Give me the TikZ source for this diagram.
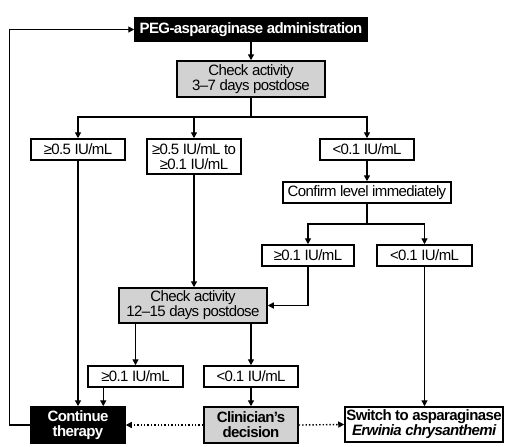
\documentclass[tikz,border=0pt]{standalone}
\usepackage{fontspec}
\setmainfont{Liberation Sans}[LetterSpace=-4]
\usetikzlibrary{arrows.meta,calc}
\definecolor{boxgray}{HTML}{D2D2D2}
\tikzset{
  basebox/.style={draw=black, line width=1.5pt, inner sep=0pt, align=center,
    font=\fontsize{15}{15}\selectfont},
  wbox/.style={basebox, fill=white},
  gbox/.style={basebox, fill=boxgray},
  bbox/.style={basebox, fill=black, text=white, font=\fontsize{15}{15}\selectfont\bfseries},
  arr/.style={line width=1.4pt, -{Triangle[length=6pt,width=6pt]}},
  ln/.style={line width=1.4pt},
  dotarr/.style={line width=1.4pt, dotted, -{Triangle[length=6pt,width=6pt]}}
}
\begin{document}
\begin{tikzpicture}[x=1pt,y=-1pt]
\useasboundingbox (0,0) rectangle (528,447);
\node[bbox, minimum width=232pt, minimum height=23pt] (peg) at (251,29.5) {PEG-asparaginase administration};
\node[gbox, minimum width=148pt, minimum height=36pt] (chk1) at (251,79) {Check activity\\3–7 days postdose};
\node[wbox, minimum width=94pt, minimum height=21pt] (a1) at (78,149.5) {≥0.5 IU/mL};
\node[wbox, minimum width=94pt, minimum height=35pt] (a2) at (194,156.5) {≥0.5 IU/mL to\\≥0.1 IU/mL};
\node[wbox, minimum width=94pt, minimum height=21pt] (a3) at (367,149.5) {<0.1 IU/mL};
\node[wbox, minimum width=168pt, minimum height=21pt] (conf) at (367,192.5) {Confirm level immediately};
\node[wbox, minimum width=92pt, minimum height=21pt] (b1) at (308,255.5) {≥0.1 IU/mL};
\node[wbox, minimum width=95pt, minimum height=21pt] (b2) at (424.5,255.5) {<0.1 IU/mL};
\node[gbox, minimum width=148pt, minimum height=35pt] (chk2) at (193,305.5) {Check activity\\12–15 days postdose};
\node[wbox, minimum width=95pt, minimum height=21pt] (c1) at (135.5,376.5) {≥0.1 IU/mL};
\node[wbox, minimum width=94pt, minimum height=21pt] (c2) at (251,376.5) {<0.1 IU/mL};
\node[bbox, minimum width=94pt, minimum height=36pt] (cont) at (78,425) {Continue\\therapy};
\node[gbox, minimum width=94pt, minimum height=36pt, font=\fontsize{15}{15}\selectfont\bfseries] (clin) at (251,425) {Clinician’s\\decision};
\node[wbox, minimum width=158pt, minimum height=35pt, font=\fontsize{15}{15}\selectfont\bfseries] (sw) at (424,424.5) {Switch to asparaginase\\\textit{Erwinia chrysanthemi}};
\coordinate (j1) at (251,117);
\coordinate (j2) at (367,224);
\draw[arr] (peg) -- (chk1);
\draw[ln] (chk1.south) -- (j1);
\draw[arr] (j1) -| (a1.north);
\draw[arr] (j1) -| (a2.north);
\draw[arr] (j1) -| (a3.north);
\draw[arr] (a3) -- (conf);
\draw[ln] (conf.south) -- (j2);
\draw[arr] (j2) -| (b1.north);
\draw[arr] (j2) -| (b2.north);
\draw[arr] (a2.south) -- (a2.south |- chk2.north);
\draw[arr] (b1.south) |- (chk2.east);
\draw[arr] (c1.north |- chk2.south) -- (c1.north);
\draw[arr] (c2.north |- chk2.south) -- (c2.north);
\draw[arr] (a1.south) -- (cont.north);
\draw[arr] ([xshift=16pt]c1.south west) -- ([xshift=16pt]c1.south west |- cont.north);
\draw[arr] (c2) -- (clin);
\draw[arr] (b2.south) -- (b2.south |- sw.north);
\draw[dotarr] (clin.west) -- (cont.east);
\draw[dotarr] (clin.east) -- (sw.west);
\draw[arr] (cont.west) -- ++(-21,0) |- (peg.west);
\end{tikzpicture}
\end{document}
